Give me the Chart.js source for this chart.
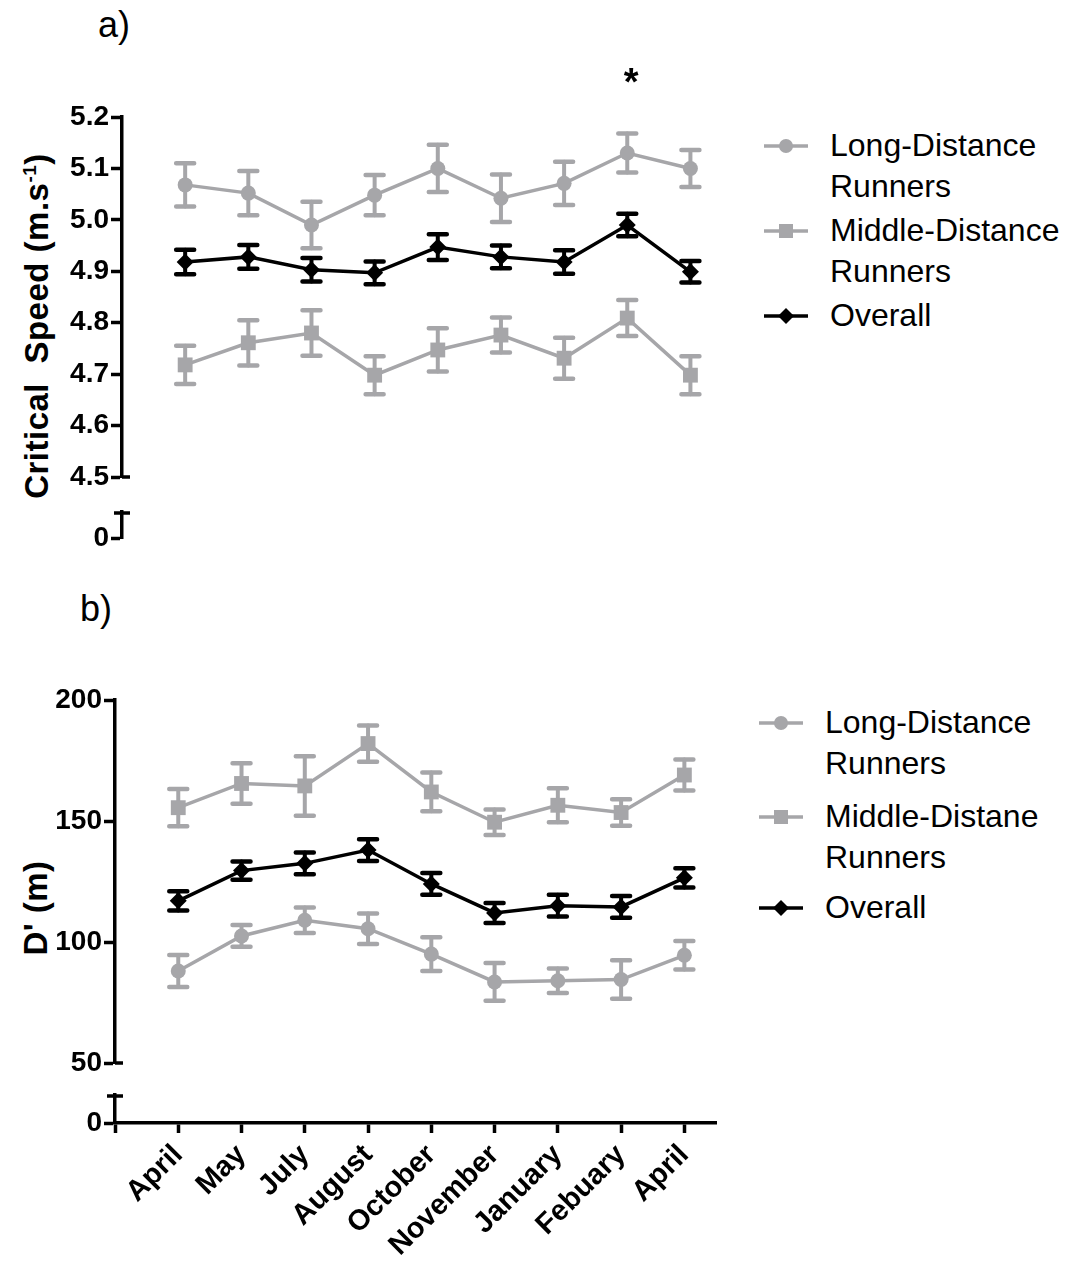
<!DOCTYPE html>
<html>
<head>
<meta charset="utf-8">
<script src="https://cdn.jsdelivr.net/npm/chart.js@4.4.1/dist/chart.umd.min.js"></script>
<style>
  html, body { margin: 0; padding: 0; background: #fff; }
  body { width: 1078px; height: 1267px; position: relative; overflow: hidden;
         font-family: 'Liberation Sans', Arial, Helvetica, sans-serif; color: #000; }
  canvas { position: absolute; left: 0; }
  .panel-label { position: absolute; font-size: 36px; line-height: 40px; }
  .ytitle { position: absolute; font-weight: bold; font-size: 33px; letter-spacing: 0.5px; white-space: nowrap;
            transform: translate(-50%, -50%) rotate(-90deg); }
  .ytitle sup { font-size: 19px; }
  .leg { position: absolute; font-size: 32px; line-height: 41px; }
  .leg svg { position: absolute; left: -68px; top: 6px; }
</style>
</head>
<body>

<div class="panel-label" style="left:98px; top:5px;">a)</div>
<div class="panel-label" style="left:80px; top:589px;">b)</div>

<div class="ytitle" style="left:37px; top:326px;">Critical&nbsp; Speed (m.s<sup>-1</sup>)</div>
<div class="ytitle" style="left:36px; top:908px;">D' (m)</div>

<canvas id="chart-cs" width="760" height="560" style="top:0;"></canvas>
<canvas id="chart-d" width="760" height="627" style="top:640px;"></canvas>

<!-- legend a -->
<div class="leg" style="left:830px; top:125px;">
  <svg width="48" height="30"><line x1="2" y1="15" x2="46" y2="15" stroke="#a6a6a9" stroke-width="3.5"/><circle cx="24" cy="15" r="7" fill="#a6a6a9"/></svg>
  Long-Distance<br>Runners</div>
<div class="leg" style="left:830px; top:210px;">
  <svg width="48" height="30"><line x1="2" y1="15" x2="46" y2="15" stroke="#a6a6a9" stroke-width="3.5"/><rect x="17" y="8" width="14" height="14" fill="#a6a6a9"/></svg>
  Middle-Distance<br>Runners</div>
<div class="leg" style="left:830px; top:295px;">
  <svg width="48" height="30"><line x1="2" y1="15" x2="46" y2="15" stroke="#000" stroke-width="3.5"/><polygon points="24,7 32,15 24,23 16,15" fill="#000"/></svg>
  Overall</div>

<!-- legend b -->
<div class="leg" style="left:825px; top:702px;">
  <svg width="48" height="30"><line x1="2" y1="15" x2="46" y2="15" stroke="#a6a6a9" stroke-width="3.5"/><circle cx="24" cy="15" r="7" fill="#a6a6a9"/></svg>
  Long-Distance<br>Runners</div>
<div class="leg" style="left:825px; top:796px;">
  <svg width="48" height="30"><line x1="2" y1="15" x2="46" y2="15" stroke="#a6a6a9" stroke-width="3.5"/><rect x="17" y="8" width="14" height="14" fill="#a6a6a9"/></svg>
  Middle-Distane<br>Runners</div>
<div class="leg" style="left:825px; top:887px;">
  <svg width="48" height="30"><line x1="2" y1="15" x2="46" y2="15" stroke="#000" stroke-width="3.5"/><polygon points="24,7 32,15 24,23 16,15" fill="#000"/></svg>
  Overall</div>

<script>
const months = ['April', 'May', 'July', 'August', 'October', 'November', 'January', 'Febuary', 'April'];

// a) critical speed, mean and error
const csLong = [5.068, 5.052, 4.99, 5.048, 5.10, 5.042, 5.071, 5.13, 5.10];
const csLongErr = [0.042, 0.043, 0.045, 0.039, 0.046, 0.046, 0.042, 0.038, 0.036];
const csMiddle = [4.718, 4.761, 4.78, 4.698, 4.747, 4.776, 4.731, 4.809, 4.698];
const csMiddleErr = [0.037, 0.044, 0.044, 0.037, 0.042, 0.034, 0.040, 0.035, 0.037];
const csOverall = [4.918, 4.928, 4.903, 4.897, 4.947, 4.928, 4.918, 4.99, 4.899];
const csOverallErr = [0.024, 0.023, 0.023, 0.022, 0.025, 0.022, 0.023, 0.022, 0.021];
const csTicks = [4.5, 4.6, 4.7, 4.8, 4.9, 5.0, 5.1, 5.2];
const csSignificant = [7];

// b) D', mean and error
const dLong = [88, 102.5, 109, 105.5, 95, 83.5, 84, 84.5, 94.5];
const dLongErr = [6.6, 4.5, 5.3, 6.3, 7, 7.8, 5.1, 8, 5.9];
const dMiddle = [155.5, 165.5, 164.5, 182, 162, 149.5, 156.5, 153.5, 169];
const dMiddleErr = [7.7, 8.4, 12.3, 7.5, 8, 5.3, 7, 5.5, 6.4];
const dOverall = [117, 129.5, 132.5, 138, 124, 112, 115, 114.5, 126.5];
const dOverallErr = [4, 3.8, 4.5, 4.5, 4.5, 4.1, 4.5, 4.5, 4];
const dTicks = [50, 100, 150, 200];

const grey = '#a6a6a9';
const black = '#000000';
const fontFamily = "'Liberation Sans', Arial, Helvetica, sans-serif";
const tickFont = { family: fontFamily, size: 28, weight: 'bold' };
const monthFont = { family: fontFamily, size: 29, weight: 'bold' };

function series(label, values, errs, color, shape, radius) {
    return {
        label,
        data: values.map((v, i) => ({ x: i, y: v })),
        errors: errs,
        borderColor: color,
        backgroundColor: color,
        borderWidth: 3.5,
        pointStyle: shape,
        pointRadius: radius,
        pointHoverRadius: radius,
        pointBorderWidth: 0,
        yAxisID: 'y',
        tension: 0,
        clip: false,
    };
}

// error bars, drawn just under each dataset's own line and markers
const errorBars = {
    id: 'errorBars',
    beforeDatasetDraw(chart, args) {
        const ds = chart.data.datasets[args.index];
        if (!ds.errors) return;
        const yScale = chart.scales[args.meta.yAxisID];
        const ctx = chart.ctx;
        ctx.save();
        ctx.strokeStyle = ds.borderColor;
        ctx.lineCap = 'round';
        args.meta.data.forEach((pt, i) => {
            const top = yScale.getPixelForValue(ds.data[i].y + ds.errors[i]);
            const bot = yScale.getPixelForValue(ds.data[i].y - ds.errors[i]);
            ctx.lineWidth = 4;
            ctx.beginPath();
            ctx.moveTo(pt.x, top);
            ctx.lineTo(pt.x, bot);
            ctx.stroke();
            ctx.lineWidth = 4.5;
            ctx.beginPath();
            ctx.moveTo(pt.x - 9, top);
            ctx.lineTo(pt.x + 9, top);
            ctx.moveTo(pt.x - 9, bot);
            ctx.lineTo(pt.x + 9, bot);
            ctx.stroke();
        });
        ctx.restore();
    },
};

// small caps where the y axis is broken
const axisBreak = {
    id: 'axisBreak',
    afterDraw(chart) {
        const main = chart.scales.y;
        const stub = chart.scales.y0;
        const x = chart.chartArea.left;
        const ctx = chart.ctx;
        ctx.save();
        ctx.strokeStyle = black;
        ctx.lineWidth = 3.5;
        ctx.beginPath();
        ctx.moveTo(x, main.bottom);
        ctx.lineTo(x + 8, main.bottom);
        ctx.moveTo(x - 8, stub.top + 1);
        ctx.lineTo(x + 8, stub.top + 1);
        ctx.stroke();
        ctx.restore();
    },
};

const stars = {
    id: 'stars',
    afterDraw(chart, args, opts) {
        if (!opts.indices) return;
        const ctx = chart.ctx;
        ctx.save();
        ctx.font = `bold 38px ${fontFamily}`;
        ctx.fillStyle = black;
        ctx.textAlign = 'center';
        ctx.textBaseline = 'middle';
        opts.indices.forEach((i) => {
            ctx.fillText('*', chart.scales.x.getPixelForValue(i) + 4, chart.chartArea.top - 32);
        });
        ctx.restore();
    },
};

function yScales(stack, min, max, ticks, weights, fmt) {
    const fixWidth = (s) => { s.width = 60; };
    const common = {
        type: 'linear',
        position: 'left',
        stack,
        afterFit: fixWidth,
        ticks: { font: tickFont, color: black, padding: 2, autoSkip: false, callback: fmt },
        grid: { drawOnChartArea: false, tickLength: 11, tickWidth: 3.5, tickColor: black, color: black },
        border: { color: black, width: 3.5 },
    };
    return {
        y: {
            ...common, min, max, stackWeight: weights[0], weight: 3,
            afterBuildTicks: (s) => { s.ticks = ticks.map((v) => ({ value: v })); },
        },
        gap: {
            ...common, min: 0, max: 1, stackWeight: weights[1], weight: 2,
            afterBuildTicks: (s) => { s.ticks = [{ value: 0 }]; },
            ticks: { display: false },
            grid: { display: false },
            border: { display: false },
        },
        y0: {
            ...common, min: 0, max: 1, stackWeight: weights[2], weight: 1,
            afterBuildTicks: (s) => { s.ticks = [{ value: 0 }]; },
            ticks: { font: tickFont, color: black, padding: 2, autoSkip: false, callback: () => '0' },
        },
    };
}

document.addEventListener('DOMContentLoaded', () => {
    new Chart(document.getElementById('chart-cs'), {
        type: 'line',
        data: {
            datasets: [
                series('Long-Distance Runners', csLong, csLongErr, grey, 'circle', 7.5),
                series('Middle-Distance Runners', csMiddle, csMiddleErr, grey, 'rect', 10.5),
                series('Overall', csOverall, csOverallErr, black, 'rectRot', 8.5),
            ],
        },
        options: {
            responsive: false,
            animation: false,
            events: [],
            layout: { padding: { left: 62, top: 117, right: 38, bottom: 22 } },
            plugins: { legend: { display: false }, tooltip: { enabled: false }, stars: { indices: csSignificant } },
            scales: {
                x: { type: 'linear', display: false, min: -1, max: 8.5 },
                ...yScales('cs', 4.5, 5.2, csTicks, [360, 35, 26], (v) => v.toFixed(1)),
            },
        },
        plugins: [errorBars, axisBreak, stars],
    });

    new Chart(document.getElementById('chart-d'), {
        type: 'line',
        data: {
            datasets: [
                series('Long-Distance Runners', dLong, dLongErr, grey, 'circle', 7.5),
                series('Middle-Distane Runners', dMiddle, dMiddleErr, grey, 'rect', 10.5),
                series('Overall', dOverall, dOverallErr, black, 'rectRot', 8.5),
            ],
        },
        options: {
            responsive: false,
            animation: false,
            events: [],
            layout: { padding: { left: 55, top: 60, right: 44, bottom: 0 } },
            plugins: { legend: { display: false }, tooltip: { enabled: false } },
            scales: {
                x: {
                    type: 'linear',
                    min: -1,
                    max: 8.5,
                    afterBuildTicks: (s) => { s.ticks = [-1, 0, 1, 2, 3, 4, 5, 6, 7, 8].map((v) => ({ value: v })); },
                    afterFit: (s) => { s.height = 144; },
                    ticks: {
                        font: monthFont, color: black, padding: 5, autoSkip: false,
                        minRotation: 45, maxRotation: 45,
                        callback: (v) => (v >= 0 ? months[v] : ''),
                    },
                    grid: { drawOnChartArea: false, tickLength: 10, tickWidth: 3.5, tickColor: black, color: black },
                    border: { color: black, width: 3.5 },
                },
                ...yScales('d', 50, 200, dTicks, [363, 32, 28], (v) => String(v)),
            },
        },
        plugins: [errorBars, axisBreak],
    });
});
</script>
</body>
</html>
